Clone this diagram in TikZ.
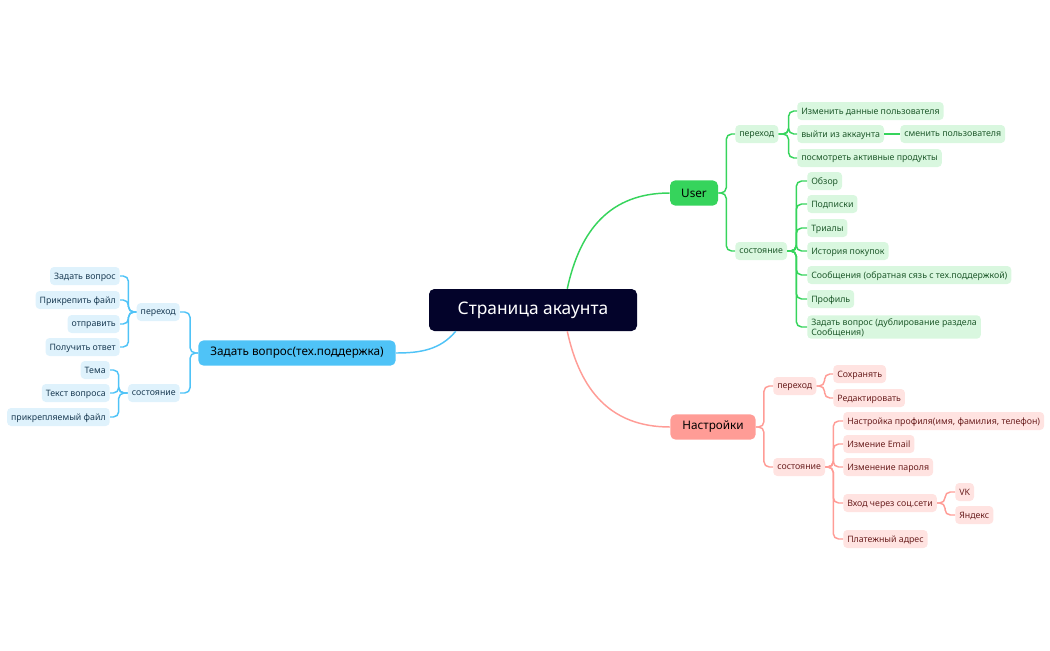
\documentclass[tikz,border=0pt]{standalone}
\usepackage{fontspec}
\setmainfont{Noto Sans}
\usetikzlibrary{calc}
\definecolor{gl}{HTML}{36D45C}\definecolor{gf}{HTML}{D9F7DF}\definecolor{gt}{HTML}{1F5A2C}
\definecolor{rl}{HTML}{FF9C96}\definecolor{rf}{HTML}{FFE3E1}\definecolor{rt}{HTML}{6B2020}
\definecolor{bl}{HTML}{4FC3F7}\definecolor{bf}{HTML}{DFF2FC}\definecolor{bt}{HTML}{1C3D55}
\definecolor{cen}{HTML}{03032A}
\tikzset{
 leaf/.style={rounded corners=3pt,inner xsep=3pt,inner ysep=2.5pt,minimum height=13.5pt,font=\fontsize{6.6}{7.5}\selectfont,text depth=0pt},
 G/.style={leaf,fill=gf,text=gt,anchor=west},
 R/.style={leaf,fill=rf,text=rt,anchor=west},
 B/.style={leaf,fill=bf,text=bt,anchor=east},
 top/.style={rounded corners=4pt,minimum height=19pt,inner xsep=8pt,font=\fontsize{8.8}{10}\selectfont,text=black},
 el/.style={to path={(\tikztostart) -- ++(#1,0) |- (\tikztotarget)},rounded corners=4pt},
 gline/.style={draw=gl,line width=1.1pt},
 rline/.style={draw=rl,line width=1.1pt},
 bline/.style={draw=bl,line width=1.1pt},
}
\begin{document}
\begin{tikzpicture}[x=0.75pt,y=-0.75pt]
\useasboundingbox (0,0) rectangle (1050,650);
\node[fill=cen,text=white,rounded corners=4pt,minimum width=156pt,minimum height=31.5pt,font=\fontsize{13}{15}\selectfont] (c) at (533,310) {Страница акаунта};
\node[top,fill=gl,minimum width=36pt] (u) at (694,193) {User};
\node[top,fill=rl,minimum width=64pt] (s) at (713,427) {Настройки};
\node[top,fill=bl,minimum width=148pt] (q) at (297,353) {Задать вопрос(тех.поддержка)};
% green
\node[G] (u1) at (735,134) {переход};
\node[G] (u2) at (735,251) {состояние};
\node[G] (u11) at (797,111) {Изменить данные пользователя};
\node[G] (u12) at (797,134) {выйти из аккаунта};
\node[G] (u121) at (900,134) {сменить пользователя};
\node[G] (u13) at (797,158) {посмотреть активные продукты};
\node[G] (u21) at (807,181) {Обзор};
\node[G] (u22) at (807,204) {Подписки};
\node[G] (u23) at (807,228) {Триалы};
\node[G] (u24) at (807,251) {История покупок};
\node[G] (u25) at (807,275) {Сообщения (обратная сязь с тех.поддержкой)};
\node[G] (u26) at (807,299) {Профиль};
\node[G,align=left] (u27) at (807,327) {Задать вопрос (дублирование раздела\\Сообщения)};
% red
\node[R] (s1) at (773,386) {переход};
\node[R] (s2) at (773,467) {состояние};
\node[R] (s11) at (833,374) {Сохранять};
\node[R] (s12) at (833,398) {Редактировать};
\node[R] (s21) at (843,421) {Настройка профиля(имя, фамилия, телефон)};
\node[R] (s22) at (843,444) {Измение Email};
\node[R] (s23) at (843,467) {Изменение пароля};
\node[R] (s24) at (843,503) {Вход через соц.сети};
\node[R] (s25) at (843,539) {Платежный адрес};
\node[R] (s241) at (955,492) {VK};
\node[R] (s242) at (955,515) {Яндекс};
% blue
\node[B] (q1) at (180,312) {переход};
\node[B] (q2) at (180,393) {состояние};
\node[B] (q11) at (120,276) {Задать вопрос};
\node[B] (q12) at (120,300) {Прикрепить файл};
\node[B] (q13) at (120,324) {отправить};
\node[B] (q14) at (120,347) {Получить ответ};
\node[B] (q21) at (110,370) {Тема};
\node[B] (q22) at (110,393) {Текст вопроса};
\node[B] (q23) at (110,417) {прикрепляемый файл};
% main curves
\draw[gline] ($(c.north east)+(-70,0)$) .. controls (580,230) and (610,193) .. (u.west);
\draw[rline] ($(c.south east)+(-70,0)$) .. controls (580,390) and (610,427) .. (s.west);
\draw[bline] ($(c.south west)+(27,0)$) .. controls (440,350) and (420,353) .. (q.east);
% green branches
\foreach \t in {u1,u2} \draw[gline] (u.east) to[el=8] (\t.west);
\foreach \t in {u11,u12,u13} \draw[gline] (u1.east) to[el=10] (\t.west);
\draw[gline] (u12) -- (u121);
\foreach \t in {u21,u22,u23,u24,u25,u26,u27} \draw[gline] (u2.east) to[el=9] (\t.west);
% red branches
\foreach \t in {s1,s2} \draw[rline] (s.east) to[el=8] (\t.west);
\foreach \t in {s11,s12} \draw[rline] (s1.east) to[el=8] (\t.west);
\foreach \t in {s21,s22,s23,s24,s25} \draw[rline] (s2.east) to[el=8] (\t.west);
\foreach \t in {s241,s242} \draw[rline] (s24.east) to[el=8] (\t.west);
% blue branches
\foreach \t in {q1,q2} \draw[bline] (q.west) to[el=-8] (\t.east);
\foreach \t in {q11,q12,q13,q14} \draw[bline] (q1.west) to[el=-8] (\t.east);
\foreach \t in {q21,q22,q23} \draw[bline] (q2.west) to[el=-9] (\t.east);
\end{tikzpicture}
\end{document}
